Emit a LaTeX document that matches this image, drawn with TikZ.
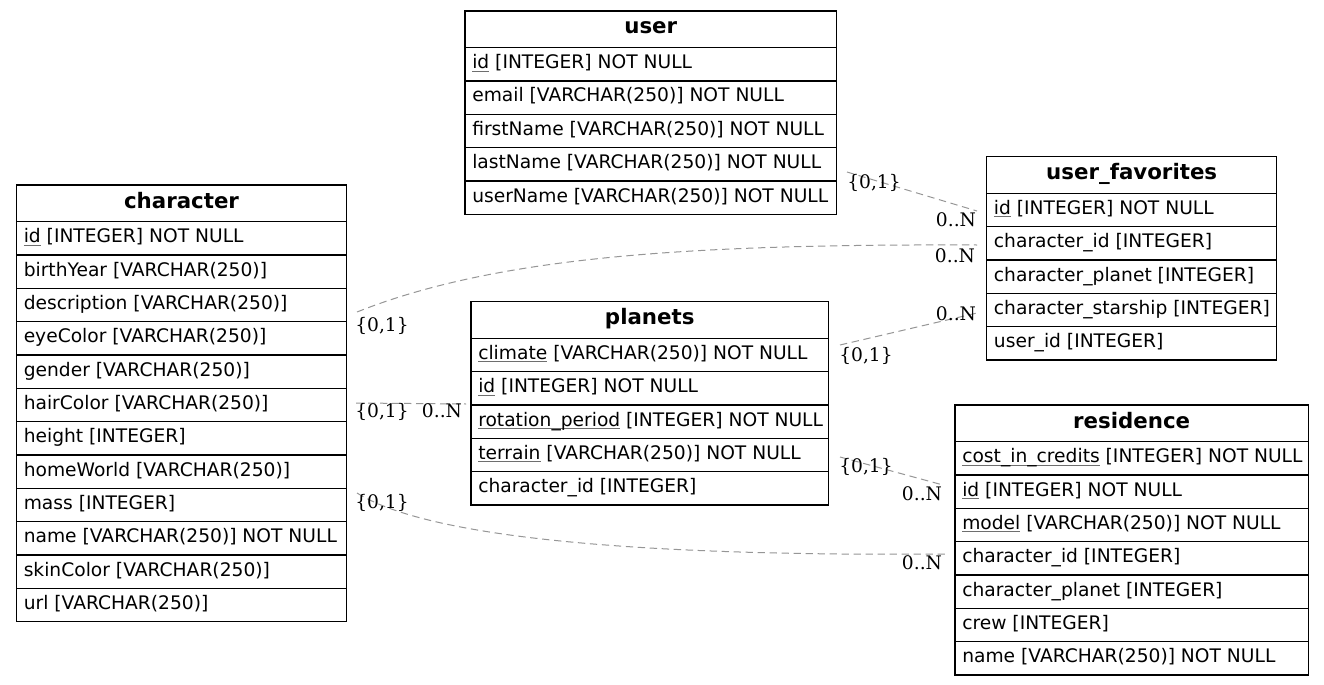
\documentclass[tikz,border=0pt]{standalone}
\usepackage{fontspec}
\setmainfont{DejaVu Sans}
\newfontfamily\lblfont{DejaVu Serif}
\definecolor{edgegray}{RGB}{150,150,150}
\definecolor{ulgray}{RGB}{110,110,110}
\newcommand\keyu[1]{\setbox0\hbox{#1}\rlap{\textcolor{ulgray}{\rule[-2.2pt]{\wd0}{0.8pt}}}\box0\relax}
\newcommand\ertitle[5]{\node[tbox,minimum width={(#4-#2)*0.75pt},minimum height={36.67*0.75pt}] (#1) at (#2,#3) {};\node[ttext] (#1t) at ({(#2+#4)/2},{#3+23}) {#5};}
\newcommand\errow[5]{\node[tbox,minimum width={(#4-#2)*0.75pt},minimum height={33.33*0.75pt}] (#1) at (#2,#3) {};\node[rtext] (#1t) at ({#2+7},{#3+21}) {#5};}
\tikzset{
  tbox/.style={draw=black,line width=1pt,inner sep=0pt,outer sep=0pt,anchor=north west,fill=white},
  ttext/.style={inner sep=0pt,anchor=base,font=\fontsize{16}{18}\selectfont\bfseries},
  rtext/.style={inner sep=0pt,anchor=base west,font=\fontsize{14}{16}\selectfont},
  rel/.style={draw=edgegray,line width=0.75pt,dash pattern=on 5.5pt off 3.5pt},
  card/.style={inner sep=0pt,anchor=base,font=\lblfont\fontsize{14}{16}\selectfont}
}
\begin{document}
\begin{tikzpicture}[x=0.75pt,y=-0.75pt]
\useasboundingbox[fill=white] (0,0) rectangle (1324,685);
% user
\ertitle{user}{465}{11}{836.5}{user}
\errow{u1}{465}{47.67}{836.5}{\keyu{id} [INTEGER] NOT NULL}
\errow{u2}{465}{81}{836.5}{email [VARCHAR(250)] NOT NULL}
\errow{u3}{465}{114.33}{836.5}{firstName [VARCHAR(250)] NOT NULL}
\errow{u4}{465}{147.67}{836.5}{lastName [VARCHAR(250)] NOT NULL}
\errow{u5}{465}{181}{836.5}{userName [VARCHAR(250)] NOT NULL}
% character
\ertitle{char}{16.5}{185}{346.5}{character}
\errow{c1}{16.5}{221.67}{346.5}{\keyu{id} [INTEGER] NOT NULL}
\errow{c2}{16.5}{255}{346.5}{birthYear [VARCHAR(250)]}
\errow{c3}{16.5}{288.33}{346.5}{description [VARCHAR(250)]}
\errow{c4}{16.5}{321.67}{346.5}{eyeColor [VARCHAR(250)]}
\errow{c5}{16.5}{355}{346.5}{gender [VARCHAR(250)]}
\errow{c6}{16.5}{388.33}{346.5}{hairColor [VARCHAR(250)]}
\errow{c7}{16.5}{421.67}{346.5}{height [INTEGER]}
\errow{c8}{16.5}{455}{346.5}{homeWorld [VARCHAR(250)]}
\errow{c9}{16.5}{488.33}{346.5}{mass [INTEGER]}
\errow{c10}{16.5}{521.67}{346.5}{name [VARCHAR(250)] NOT NULL}
\errow{c11}{16.5}{555}{346.5}{skinColor [VARCHAR(250)]}
\errow{c12}{16.5}{588.33}{346.5}{url [VARCHAR(250)]}
% planets
\ertitle{plan}{471}{301.67}{828.5}{planets}
\errow{p1}{471}{338.33}{828.5}{\keyu{climate} [VARCHAR(250)] NOT NULL}
\errow{p2}{471}{371.67}{828.5}{\keyu{id} [INTEGER] NOT NULL}
\errow{p3}{471}{405}{828.5}{\keyu{rotation\_period} [INTEGER] NOT NULL}
\errow{p4}{471}{438.33}{828.5}{\keyu{terrain} [VARCHAR(250)] NOT NULL}
\errow{p5}{471}{471.67}{828.5}{character\_id [INTEGER]}
% user_favorites
\ertitle{fav}{986.7}{156.67}{1276.7}{user\_favorites}
\errow{f1}{986.7}{193.33}{1276.7}{\keyu{id} [INTEGER] NOT NULL}
\errow{f2}{986.7}{226.67}{1276.7}{character\_id [INTEGER]}
\errow{f3}{986.7}{260}{1276.7}{character\_planet [INTEGER]}
\errow{f4}{986.7}{293.33}{1276.7}{character\_starship [INTEGER]}
\errow{f5}{986.7}{326.67}{1276.7}{user\_id [INTEGER]}
% residence
\ertitle{res}{955}{405}{1308.3}{residence}
\errow{r1}{955}{441.67}{1308.3}{\keyu{cost\_in\_credits} [INTEGER] NOT NULL}
\errow{r2}{955}{475}{1308.3}{\keyu{id} [INTEGER] NOT NULL}
\errow{r3}{955}{508.33}{1308.3}{\keyu{model} [VARCHAR(250)] NOT NULL}
\errow{r4}{955}{541.67}{1308.3}{character\_id [INTEGER]}
\errow{r5}{955}{575}{1308.3}{character\_planet [INTEGER]}
\errow{r6}{955}{608.33}{1308.3}{crew [INTEGER]}
\errow{r7}{955}{641.67}{1308.3}{name [VARCHAR(250)] NOT NULL}
% edge end points
\coordinate (e1s) at (847,172);  \coordinate (e1e) at (977,211);
\coordinate (e2s) at (357,312);  \coordinate (e2e) at (977,245);
\coordinate (e3s) at (840,345);  \coordinate (e3e) at (977,313);
\coordinate (e4s) at (356,403);  \coordinate (e4e) at (466,404);
\coordinate (e5s) at (840,457);  \coordinate (e5e) at (943,485);
\coordinate (e6s) at (357,493);  \coordinate (e6e) at (945,554);
\draw[rel] (e1s) -- (e1e);
\draw[rel] (e2s) .. controls (500,255) and (700,244) .. (e2e);
\draw[rel] (e3s) -- (e3e);
\draw[rel] (e4s) -- (e4e);
\draw[rel] (e5s) -- (e5e);
\draw[rel] (e6s) .. controls (440,545) and (700,556) .. (e6e);
% cardinalities
\node[card] (l1a) at (874,188) {\{0,1\}};
\node[card] (l1b) at (956,226) {0..N};
\node[card] (l2a) at (382,331) {\{0,1\}};
\node[card] (l2b) at (955,262) {0..N};
\node[card] (l3a) at (866,361) {\{0,1\}};
\node[card] (l3b) at (956,320) {0..N};
\node[card] (l4a) at (382,417) {\{0,1\}};
\node[card] (l4b) at (442,417) {0..N};
\node[card] (l5a) at (866,472) {\{0,1\}};
\node[card] (l5b) at (922,500) {0..N};
\node[card] (l6a) at (382,508) {\{0,1\}};
\node[card] (l6b) at (922,569) {0..N};
\end{tikzpicture}
\end{document}
